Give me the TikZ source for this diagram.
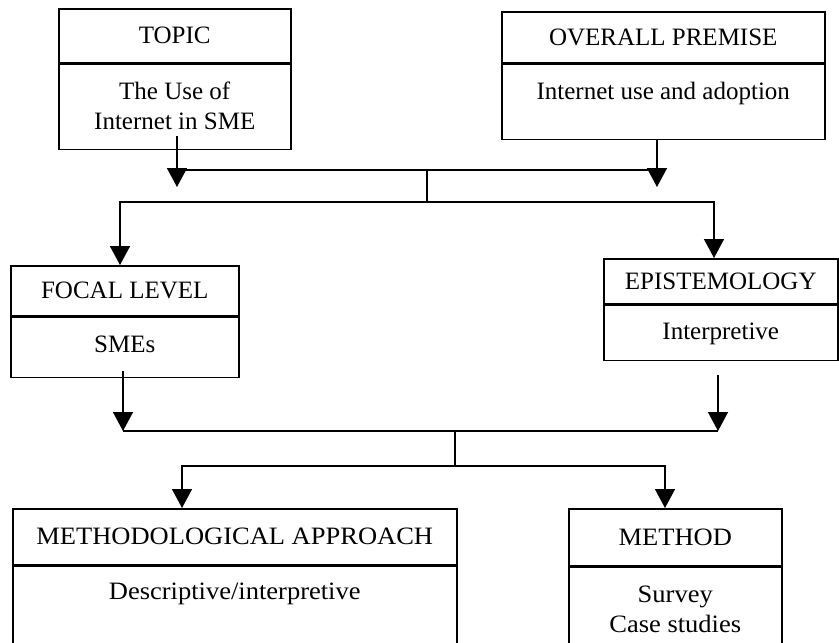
\documentclass[tikz,border=0pt]{standalone}
\usepackage{fontspec}
\setmainfont{Liberation Serif}
\usetikzlibrary{arrows.meta}

\tikzset{
	boxline/.style={line width=1.5pt},
	headbox/.style={boxline, draw, inner sep=0pt, anchor=north west, font=\fontsize{25}{30}\selectfont},
	bodybox/.style={boxline, draw, inner sep=0pt, anchor=north, align=center, text height=35pt, font=\fontsize{25}{30}\selectfont},
	widefont/.style={font=\fontsize{25}{30}\selectfont\addfontfeature{FakeStretch=1.06}},
	flowline/.style={line width=1.5pt},
	flowarrow/.style={flowline, -{Triangle[width=20pt,length=19pt]}},
}

\begin{document}
\begin{tikzpicture}[x=1pt, y=-1pt]
			%%%%% START %%%%%
			\useasboundingbox (0,0) rectangle (839,643);
			
			\node[headbox, minimum width=232pt, minimum height=54pt] (topichead) at (58,8) {TOPIC};
			\node[bodybox, minimum width=232pt, text height=65pt, text depth=20pt] (topicbody) at (topichead.south) {The Use of\\Internet in SME};
			
			\node[headbox, minimum width=323pt, minimum height=51pt] (overallhead) at (501,11) {OVERALL PREMISE};
			\node[bodybox, minimum width=323pt, text depth=40pt] (overallbody) at (overallhead.south) {Internet use and adoption};
			
			\node[headbox, minimum width=228pt, minimum height=50pt] (focalhead) at (10,265) {FOCAL LEVEL};
			\node[bodybox, minimum width=228pt, text depth=25pt] (focalbody) at (focalhead.south) {SMEs};
			
			\node[headbox, minimum width=234pt, minimum height=45pt] (episthead) at (603,258) {EPISTEMOLOGY};
			\node[bodybox, minimum width=234pt, text height=34pt, text depth=21pt] (epistbody) at (episthead.south) {Interpretive};
			
			\node[headbox, widefont, minimum width=444pt, minimum height=56pt] (approachhead) at (12,508) {METHODOLOGICAL APPROACH};
			\node[bodybox, widefont, minimum width=444pt, text height=33pt, text depth=44.5pt] (approachbody) at (approachhead.south) {Descriptive/interpretive};
			
			\node[headbox, widefont, minimum width=213pt, minimum height=57pt] (methodhead) at (568,508) {METHOD};
			\node[bodybox, widefont, minimum width=213pt, text height=65pt, text depth=11.5pt] (methodbody) at (methodhead.south) {Survey\\Case studies};
			
			\coordinate (topicout) at (177,187);
			\coordinate (overallout) at (657,187);
			\coordinate (upperjoin) at (427,170);
			\coordinate (upperfork) at (427,202);
			\coordinate (focalin) at (120,265);
			\coordinate (epistin) at (714,258);
			
			\coordinate (focalout) at (123,431);
			\coordinate (epistout) at (718,431);
			\coordinate (lowerjoin) at (455,431);
			\coordinate (lowerfork) at (455,466);
			\coordinate (approachin) at (182,508);
			\coordinate (methodin) at (665,508);
			
			\draw[flowarrow, shorten <=-14pt] (topicbody.south -| topicout) -- (topicout);
			\draw[flowarrow] (overallbody.south -| overallout) -- (overallout);
			\draw[flowline] (topicout |- upperjoin) -- (overallout |- upperjoin);
			\draw[flowline] (upperjoin) -- (upperfork);
			\draw[flowarrow] (upperfork) -| (focalin);
			\draw[flowarrow] (upperfork) -| (epistin);
			
			\draw[flowarrow, shorten <=-7pt] (focalbody.south -| focalout) -- (focalout);
			\draw[flowarrow, shorten <=14pt] (epistbody.south -| epistout) -- (epistout);
			\draw[flowline] (focalout) -- (epistout);
			\draw[flowline] (lowerjoin) -- (lowerfork);
			\draw[flowarrow] (lowerfork) -| (approachin);
			\draw[flowarrow] (lowerfork) -| (methodin);
			
			%%%%% END %%%%%
\end{tikzpicture}
\end{document}
